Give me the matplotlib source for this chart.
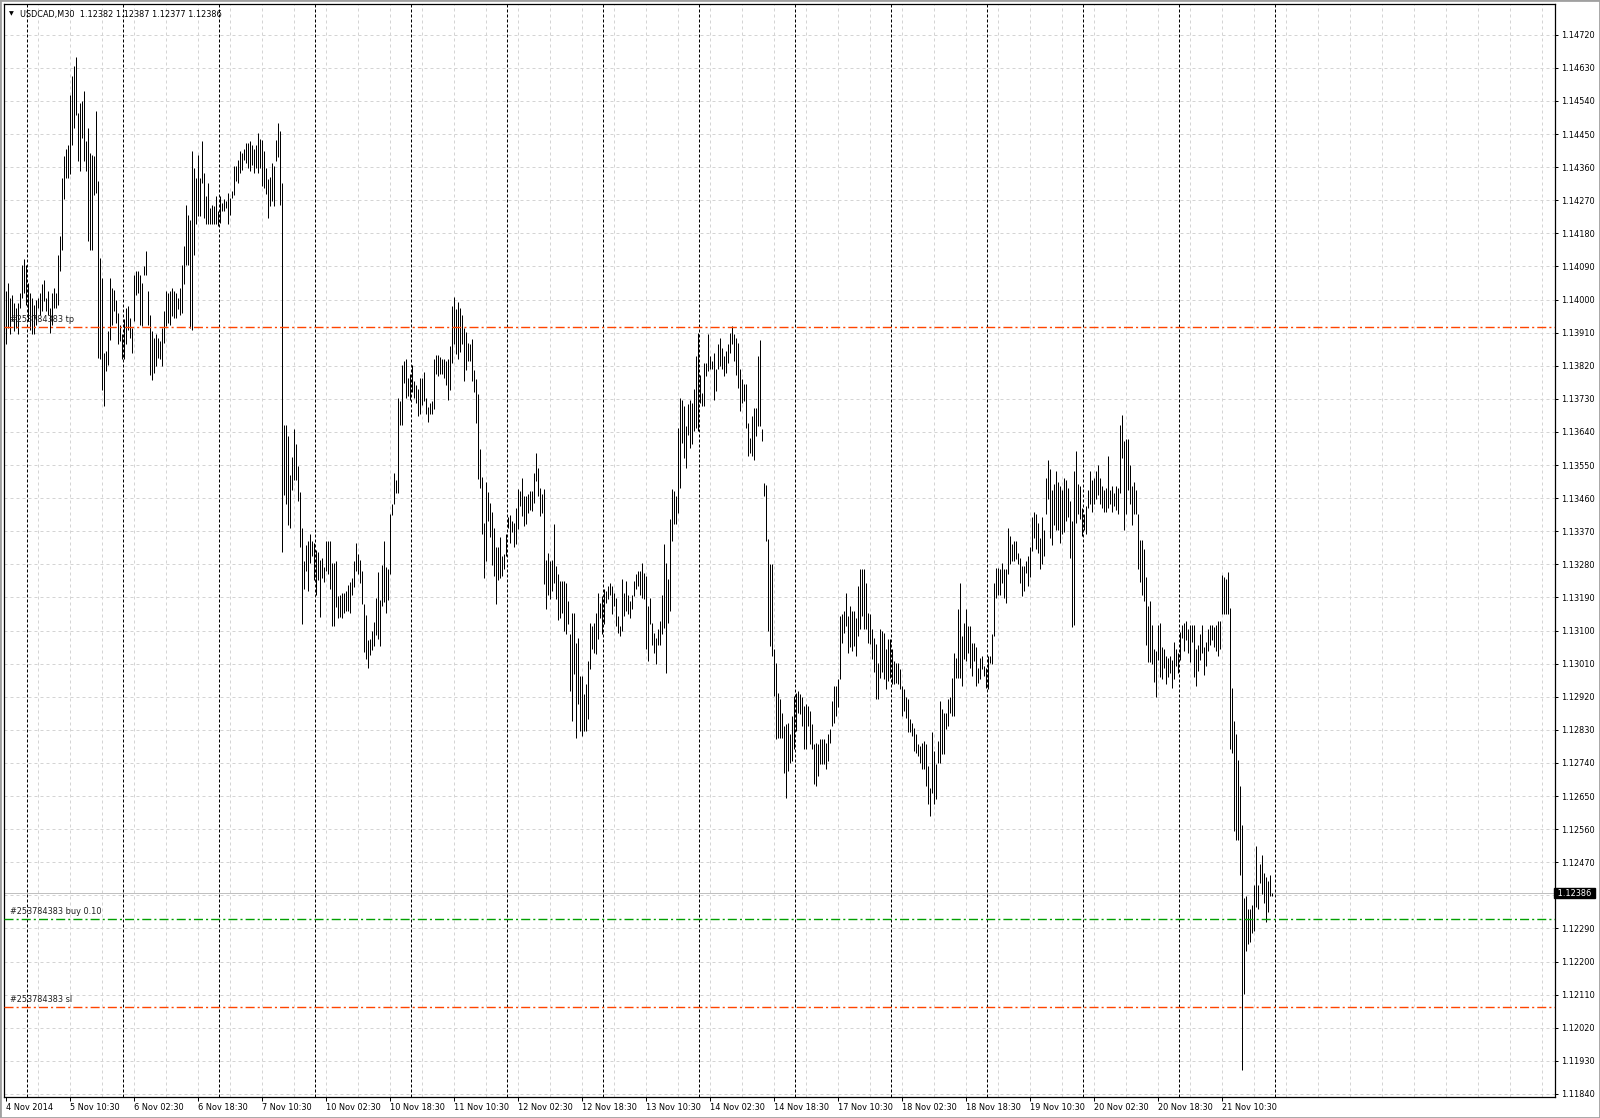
import matplotlib
matplotlib.use("Agg")
import matplotlib.pyplot as plt
import matplotlib.transforms as mtransforms

# M30 bars, high / low in points above 1.10000 (1 point = 0.00001)
highs = [
    4023, 4045, 4004, 4013, 3991, 3977, 3991, 4018, 4095, 4109,
    4095, 4045, 4018, 4004, 3986, 4000, 4004, 4018, 4041, 4054,
    4004, 4023, 3977, 4018, 4032, 4018, 4122, 4172, 4331, 4389,
    4408, 4421, 4557, 4607, 4634, 4659, 4507, 4534, 4539, 4566,
    4430, 4466, 4399, 4394, 4389, 4512, 4322, 4113, 4059, 3855,
    3859, 3914, 4059, 4032, 4027, 4000, 3964, 3932, 3905, 3946,
    3977, 3982, 3950, 3923, 4068, 4077, 4077, 4068, 4045, 4091,
    4131, 4023, 3959, 3914, 3896, 3905, 3896, 3887, 3923, 3968,
    4023, 4018, 4023, 4032, 4023, 4018, 4004, 4032, 4095, 4145,
    4258, 4231, 4217, 4403, 4358, 4331, 4394, 4331, 4430, 4344,
    4281, 4317, 4249, 4258, 4254, 4281, 4240, 4281, 4263, 4272,
    4267, 4290, 4276, 4294, 4362, 4362, 4380, 4403, 4399, 4408,
    4426, 4426, 4430, 4421, 4408, 4421, 4453,
    4436, 4433, 4403, 4358, 4328, 4333, 4370, 4363, 4433, 4480,
    4458, 4318, 3658, 3658, 3628, 3523, 3573, 3648, 3608, 3548,
    3478, 3378, 3288, 3333, 3343, 3363, 3343, 3338, 3318, 3313,
    3293, 3298, 3273, 3343, 3343, 3343, 3283, 3283, 3290, 3193,
    3198, 3203, 3203, 3208, 3223, 3233, 3243, 3288, 3338, 3308,
    3293, 3263, 3173, 3143, 3073, 3078, 3098, 3123, 3188, 3258,
    3183, 3278, 3343, 3273, 3268, 3418, 3443, 3528, 3508, 3733,
    3723, 3823, 3833, 3838, 3788, 3798, 3823, 3778, 3768, 3758,
    3788, 3788, 3803, 3733, 3708, 3718, 3723, 3838, 3848, 3848,
    3843, 3838, 3838, 3833, 3838, 3873, 3983, 4008, 3973, 3993,
    3978, 3958, 3923, 3913, 3883, 3878, 3893, 3808, 3783, 3743,
    3593, 3518, 3393, 3503, 3478, 3448, 3423, 3378, 3328, 3328,
    3353, 3303, 3308, 3363, 3408, 3413, 3398, 3393,
    3434, 3484, 3479, 3515, 3466, 3466, 3470, 3479, 3479, 3529,
    3583, 3543, 3488, 3470, 3484, 3293, 3312, 3289, 3293, 3389,
    3275, 3253, 3235, 3235, 3235, 3230, 3180, 3090, 3149, 3149,
    3067, 3081, 2976, 2976, 2927, 2954, 3017, 3121, 3112, 3121,
    3149, 3203, 3176, 3194, 3212, 3207, 3221, 3230, 3221, 3203,
    3189, 3139, 3112, 3239, 3203, 3235, 3198, 3180, 3198, 3235,
    3253, 3262, 3262, 3284, 3257, 3248, 3167, 3189, 3121, 3094,
    3081, 3103, 3126, 3198, 3334, 3284, 3239, 3402, 3484, 3479,
    3466, 3651, 3733, 3728, 3710, 3656, 3715, 3728, 3719, 3756,
    3846, 3910, 3796, 3746, 3828, 3828, 3905, 3846, 3833, 3855,
    3810, 3878, 3896, 3869, 3846, 3860, 3878, 3910, 3928, 3905,
    3896, 3882, 3810, 3783, 3769, 3769, 3665, 3624, 3683, 3706,
    3706, 3846, 3891, 3647, 3502, 3497, 3348, 3280, 3280,
    3049, 3013, 2931, 2913, 2877, 2841, 2845, 2850, 2818, 2868,
    2922, 2931, 2936, 2927, 2918, 2895, 2900, 2895, 2881, 2845,
    2791, 2795, 2791, 2804, 2804, 2804, 2795, 2818, 2831, 2909,
    2949, 2949, 2967, 3140, 3144, 3153, 3203, 3140, 3167, 3153,
    3153, 3135, 3221, 3266, 3266, 3268, 3230, 3149, 3144, 3103,
    3081, 3063, 3013, 3103, 3099, 3094, 3049, 3076, 3076, 3049,
    3017, 3013, 3013, 2995, 2949, 2940, 2918, 2913, 2859, 2850,
    2836, 2818, 2791, 2786, 2795, 2800, 2791, 2732, 2673, 2823,
    2773, 2736, 2800, 2909, 2886, 2877, 2877, 2913, 2918, 2972,
    3040, 3026, 3158, 3230, 3085, 3121, 3158, 3112, 3112, 3067,
    3067, 3054, 2999, 3026, 3031, 3004, 2999, 3031, 3031, 3090,
    3230, 3271, 3271, 3266, 3285, 3266, 3266, 3380, 3357, 3334,
    3343, 3343, 3312, 3298, 3275, 3275, 3289,
    3304, 3327, 3410, 3422, 3416, 3392, 3351, 3410, 3374, 3516,
    3563, 3540, 3481, 3498, 3534, 3504, 3492, 3481, 3516, 3510,
    3487, 3451, 3398, 3534, 3587, 3498, 3492, 3433, 3416, 3439,
    3481, 3534, 3510, 3516, 3534, 3551, 3516, 3492, 3481, 3487,
    3575, 3481, 3492, 3475, 3492, 3487, 3658, 3687, 3616, 3622,
    3622, 3551, 3492, 3504, 3481, 3416, 3345, 3345, 3321, 3245,
    3168, 3180, 3115, 3050, 3044, 3115, 3121, 3056, 3050, 3032,
    3026, 3032, 3020, 3068, 3050, 3038, 3097, 3115, 3121, 3127,
    3103, 3115, 3115, 3115, 3050, 3062, 3091, 3115, 3056, 3068,
    3103, 3115, 3115, 3109, 3115, 3127, 3127, 3250, 3245, 3239,
    3259, 3162, 2944, 2855, 2820, 2749, 2678, 2572, 2372, 2377,
    2342, 2342, 2354, 2407, 2513, 2407, 2466, 2489, 2442, 2431,
    2419, 2436, 2387,
]

lows = [
    3878, 3923, 3905, 3941, 3914, 3923, 3905, 3977, 4004, 4018,
    3986, 3941, 3918, 3905, 3905, 3932, 3977, 3959, 3968, 3995,
    3968, 3959, 3909, 3932, 3977, 3977, 3986, 4077, 4136, 4272,
    4331, 4331, 4340, 4421, 4466, 4503, 4376, 4349, 4439, 4376,
    4349, 4158, 4136, 4136, 4285, 4290, 3841, 3837, 3755, 3710,
    3805, 3823, 3891, 3932, 3968, 3936, 3878, 3887, 3837, 3837,
    3878, 3918, 3896, 3855, 3941, 4013, 4018, 3932, 3927, 4068,
    4068, 3932, 3796, 3782, 3801, 3819, 3841, 3837, 3819, 3882,
    3927, 3936, 3932, 3955, 3950, 3950, 3973, 3959, 3964, 4041,
    4095, 4095, 3923, 3918, 4122, 4204, 4226, 4226, 4317, 4222,
    4204, 4204, 4204, 4204, 4204, 4204, 4199, 4208, 4240, 4240,
    4249, 4204, 4231, 4276, 4285, 4322, 4317, 4344, 4353, 4380,
    4371, 4358, 4349, 4367, 4344, 4358, 4344,
    4358, 4308, 4303, 4288, 4223, 4253, 4268, 4253, 4378, 4388,
    4258, 3313, 3468, 3443, 3388, 3378, 3483, 3508, 3508, 3453,
    3328, 3118, 3213, 3263, 3208, 3283, 3303, 3238, 3198, 3238,
    3138, 3243, 3233, 3263, 3253, 3213, 3113, 3113, 3163, 3133,
    3138, 3133, 3148, 3153, 3153, 3148, 3198, 3218, 3263, 3253,
    3228, 3173, 3043, 3023, 2998, 3033, 3048, 3058, 3088, 3078,
    3058, 3168, 3178, 3148, 3183, 3253, 3413, 3443, 3473, 3473,
    3658, 3658, 3773, 3733, 3738, 3728, 3748, 3733, 3718, 3683,
    3688, 3713, 3723, 3688, 3668, 3688, 3688, 3703, 3798, 3793,
    3798, 3798, 3788, 3768, 3728, 3753, 3828, 3878, 3853, 3838,
    3858, 3878, 3778, 3808, 3833, 3833, 3778, 3748, 3663, 3513,
    3488, 3363, 3243, 3288, 3398, 3353, 3278, 3248, 3173, 3238,
    3243, 3248, 3268, 3303, 3378, 3338, 3368, 3328,
    3334, 3375, 3438, 3411, 3384, 3389, 3420, 3429, 3425, 3448,
    3506, 3466, 3411, 3420, 3226, 3158, 3198, 3185, 3207, 3230,
    3185, 3130, 3135, 3149, 3099, 3090, 3117, 2936, 2854, 2981,
    2809, 2899, 2827, 2813, 2827, 2827, 2859, 2995, 3049, 3040,
    3035, 3076, 3135, 3090, 3117, 3176, 3185, 3198, 3144, 3167,
    3112, 3094, 3085, 3099, 3139, 3153, 3144, 3135, 3158, 3194,
    3212, 3221, 3198, 3189, 3185, 3049, 3017, 3117, 3062, 3040,
    3008, 3062, 3062, 3090, 3108, 2985, 3121, 3153, 3343, 3389,
    3389, 3420, 3488, 3611, 3570, 3543, 3633, 3597, 3606, 3642,
    3651, 3642, 3719, 3710, 3710, 3792, 3805, 3810, 3810, 3728,
    3751, 3810, 3819, 3810, 3792, 3801, 3828, 3855, 3878, 3833,
    3796, 3760, 3697, 3719, 3724, 3651, 3574, 3583, 3574, 3565,
    3629, 3656, 3656, 3615, 3466, 3343, 3099, 3058, 3031,
    2922, 2804, 2809, 2809, 2809, 2714, 2646, 2718, 2741, 2746,
    2777, 2827, 2877, 2872, 2841, 2777, 2777, 2841, 2791, 2777,
    2682, 2678, 2705, 2736, 2736, 2736, 2723, 2746, 2795, 2841,
    2850, 2868, 2891, 2967, 3067, 3094, 3112, 3040, 3054, 3045,
    3058, 3031, 3085, 3103, 3140, 3103, 3103, 3067, 3063, 3022,
    2986, 2913, 2913, 2972, 2986, 2967, 2940, 2963, 2972, 2954,
    2954, 2958, 2954, 2940, 2868, 2881, 2863, 2823, 2823, 2813,
    2773, 2768, 2759, 2741, 2723, 2723, 2678, 2628, 2596, 2659,
    2628, 2641, 2741, 2741, 2764, 2764, 2831, 2841, 2877, 2868,
    2868, 2972, 2972, 2972, 2949, 3022, 3017, 3040, 2999, 2977,
    3017, 2949, 2958, 2967, 2995, 2977, 2945, 2940, 3013, 3008,
    3085, 3189, 3198, 3198, 3230, 3189, 3176, 3253, 3280, 3289,
    3289, 3294, 3280, 3230, 3194, 3207, 3257,
    3221, 3245, 3316, 3351, 3321, 3310, 3268, 3280, 3304, 3416,
    3457, 3351, 3333, 3386, 3374, 3374, 3339, 3363, 3369, 3398,
    3410, 3298, 3109, 3115, 3392, 3416, 3404, 3357, 3374, 3363,
    3433, 3445, 3422, 3445, 3457, 3469, 3445, 3433, 3422, 3422,
    3433, 3445, 3422, 3439, 3428, 3416, 3475, 3569, 3374, 3416,
    3481, 3445, 3386, 3416, 3416, 3268, 3233, 3197, 3180, 3062,
    3015, 3015, 3009, 2961, 2920, 3020, 2973, 2967, 2997, 2956,
    2973, 2985, 2944, 2967, 3003, 2985, 3020, 3079, 3044, 3074,
    3038, 3015, 3068, 2973, 2949, 2991, 3020, 3038, 2979, 3003,
    3044, 3062, 3074, 3056, 3044, 3032, 3050, 3144, 3144, 3144,
    3144, 2779, 2767, 2554, 2531, 2531, 2436, 1905, 2112, 2230,
    2248, 2254, 2277, 2283, 2348, 2342, 2413, 2383, 2360, 2307,
    2336, 2377, 2377,
]

x_labels = ["4 Nov 2014", "5 Nov 10:30", "6 Nov 02:30", "6 Nov 18:30",
            "7 Nov 10:30", "10 Nov 02:30", "10 Nov 18:30", "11 Nov 10:30",
            "12 Nov 02:30", "12 Nov 18:30", "13 Nov 10:30", "14 Nov 02:30",
            "14 Nov 18:30", "17 Nov 10:30", "18 Nov 02:30", "18 Nov 18:30",
            "19 Nov 10:30", "20 Nov 02:30", "20 Nov 18:30", "21 Nov 10:30"]
y_ticks = [round(1.11840 + 0.0009 * k, 5) for k in range(33)]

order = "#253784383"
tp_price = 1.13926
buy_price = 1.12316
sl_price = 1.12077
bid_price = 1.12386
title_ohlc = "1.12382 1.12387 1.12377 1.12386"

base = 1.1
point = 0.00001
n = min(len(highs), len(lows))
hi = [base + v * point for v in highs[:n]]
lo = [base + v * point for v in lows[:n]]
idx = list(range(n))

W, H = 1600, 1118
PX = 0.72  # one pixel in points
fig = plt.figure(figsize=(W / 100, H / 100), dpi=100)
fig.patch.set_facecolor("white")
ax = fig.add_axes([4 / W, (H - 1097) / H, 1551 / W, 1093 / H])
# 2 px per bar, bar centres on pixel centres
ax.set_xlim(-0.75, 774.75)
ax.set_ylim(1.118318, 1.148035)

FS = 5.9
plt.rcParams["font.family"] = ["DejaVu Sans"]

# grid
for y in y_ticks:
    ax.axhline(y, color="#d4d4d4", lw=PX, ls=(0, (3, 3)), zorder=1)
for xg in range(16, 776, 16):
    ax.axvline(xg, color="#d4d4d4", lw=PX, ls=(0, (3, 3)), zorder=1)

# day separators (up to the last trading day shown)
for d in range(11, 640, 48):
    ax.axvline(d - 0.25, color="black", lw=PX, ls=(0, (3, 2)), zorder=2)

# bid line
ax.axhline(bid_price, color="#c0c0c0", lw=PX, zorder=2)

# bars
ax.vlines(idx, lo, hi, color="black", lw=PX, zorder=3, snap=True)

# order levels
dashdot = (0, (6.5, 2.2, 1.5, 2.2))
ax.axhline(tp_price, color="#ff4500", lw=1.0, ls=dashdot, zorder=4)
ax.axhline(buy_price, color="#00a000", lw=1.0, ls=dashdot, zorder=4)
ax.axhline(sl_price, color="#ff4500", lw=1.0, ls=dashdot, zorder=4)
for txt, lvl in [(order + " tp", tp_price), (order + " buy 0.10", buy_price),
                 (order + " sl", sl_price)]:
    ax.annotate(txt, xy=(2.0, lvl), xytext=(0, 2), textcoords="offset points",
                fontsize=FS, color="#202020", va="bottom", ha="left", zorder=5)

# axes
for s in ax.spines.values():
    s.set_color("black")
    s.set_linewidth(0.9)
ax.yaxis.tick_right()
ax.set_yticks(y_ticks)
# the bid tag sits on top of the 1.12380 label, as in the terminal
ax.set_yticklabels(["" if abs(v - bid_price) < 0.0002 else f"{v:.5f}" for v in y_ticks])
ax.set_xticks(range(0, 32 * len(x_labels), 32))
ax.set_xticklabels(x_labels, ha="left")
ax.tick_params(axis="y", direction="out", length=2.5, width=PX, pad=1.5,
               labelsize=FS, colors="black")
ax.tick_params(axis="x", direction="out", length=3, width=PX, pad=1.5,
               labelsize=FS, colors="black")
for lab in ax.get_xticklabels():
    lab.set_transform(lab.get_transform() + mtransforms.ScaledTranslation(1 / 100, 0, fig.dpi_scale_trans))

# current bid price tag
trans = mtransforms.blended_transform_factory(ax.transAxes, ax.transData)
ax.text(1.0, bid_price, f" {bid_price:.5f} ", transform=trans,
        ha="left", va="center", fontsize=FS, color="white", zorder=6,
        bbox=dict(facecolor="black", edgecolor="black", pad=0.6),
        clip_on=False)

# title
fig.text(9 / W, 1 - 14 / H, "\u25bc", fontsize=4.5, va="center", ha="left", color="black")
fig.text(20 / W, 1 - 14 / H, "USDCAD,M30  " + title_ohlc, fontsize=FS,
         va="center", ha="left", color="black")

# window border
fig.patches.append(plt.Rectangle((0, 0), 1, 1, transform=fig.transFigure,
                                 fill=False, edgecolor="#a0a0a0", lw=2))

fig.savefig("out.png", dpi=100)
